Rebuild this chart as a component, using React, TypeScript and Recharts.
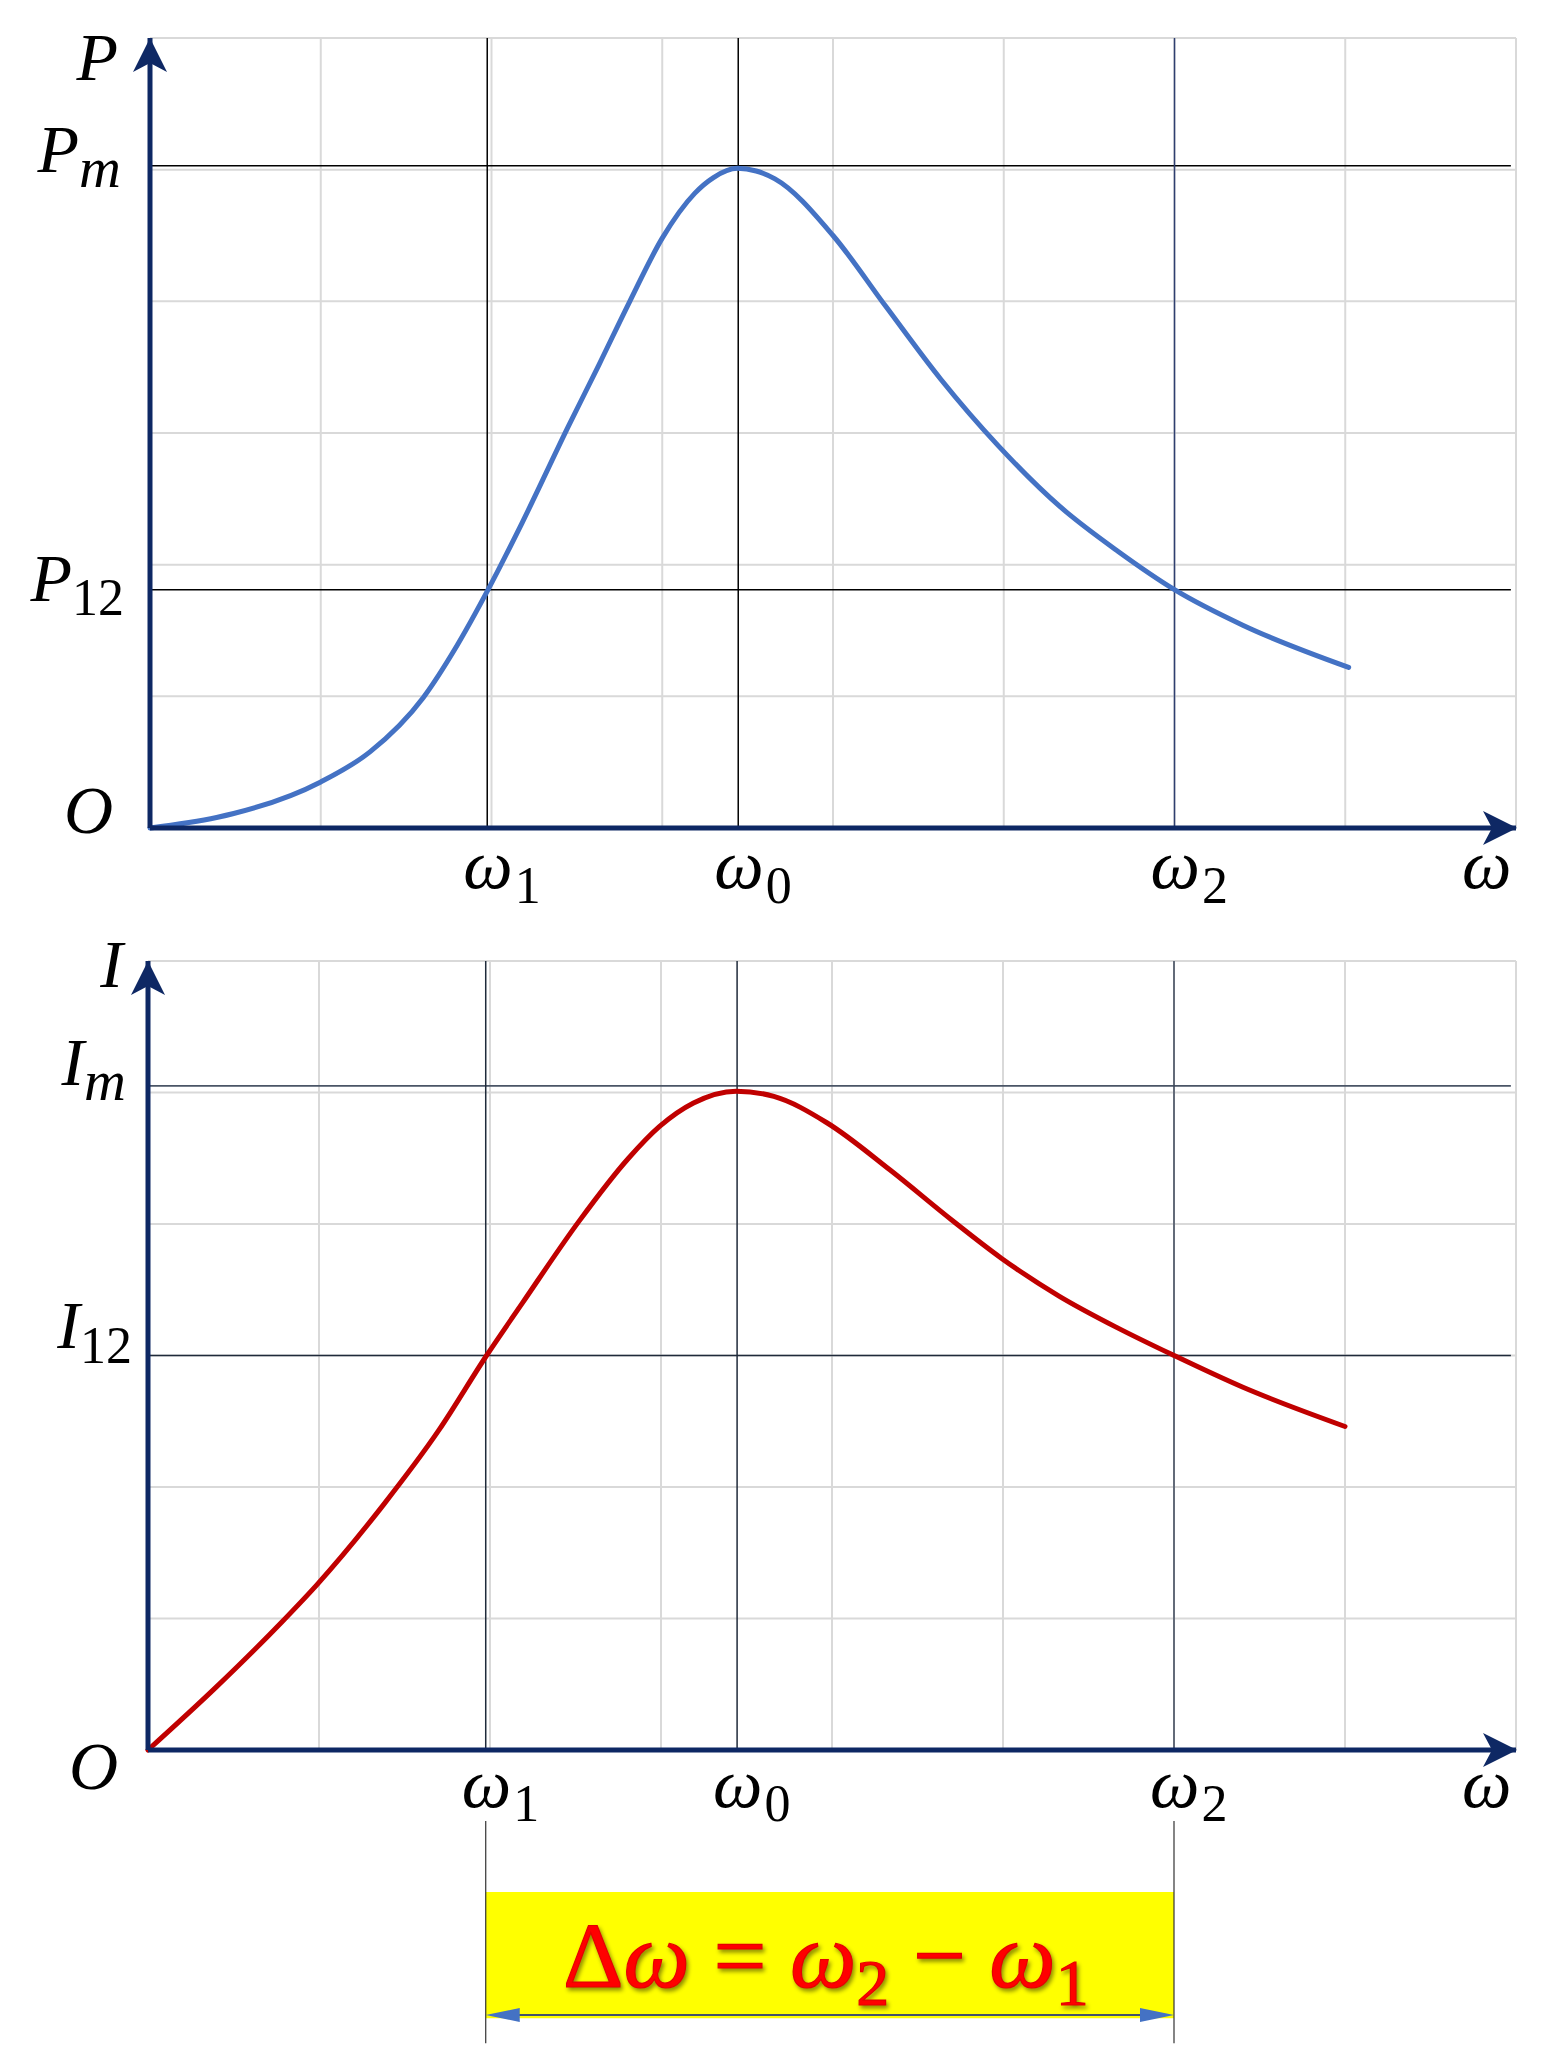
import React from 'react';
import { LineChart, Line, XAxis, YAxis, ReferenceLine, ReferenceDot, ReferenceArea } from 'recharts';

// frequency marks (grid units along ω axis)
const W1 = 1.975;
const W0 = 3.445;
const W2 = 6.0;
const W_MAX = 8;
const Y_MAX = 6;

const gridX = [1, 2, 3, 4, 5, 6, 7, 8];
const gridY = [1, 2, 3, 4, 5, 6];

// power curve P(ω)
const omegaP = [0, 0.39, 0.49, 1.0, 1.29, 1.6, 1.8, 1.98, 2.18, 2.45, 2.63, 2.81, 3.0, 3.19, 3.3, 3.44, 3.55, 3.66, 4.0, 4.31, 4.63, 4.97, 5.33, 5.67, 6.0, 6.4, 7.02];
const powerP = [0, 0.08, 0.11, 0.35, 0.58, 0.99, 1.39, 1.81, 2.32, 3.05, 3.52, 4.0, 4.48, 4.82, 4.94, 5.01, 4.99, 4.93, 4.5, 3.96, 3.41, 2.9, 2.44, 2.1, 1.81, 1.54, 1.22];
const P_M = 5.03;
const P_12 = 1.81;

// current curve I(ω)
const omegaI = [0, 0.4, 0.78, 0.99, 1.38, 1.7, 1.98, 2.19, 2.52, 2.81, 2.99, 3.19, 3.44, 3.66, 3.97, 4.34, 4.7, 4.99, 5.33, 5.67, 6.0, 6.4, 7.0];
const currentI = [0, 0.48, 0.97, 1.26, 1.87, 2.43, 3.0, 3.4, 4.02, 4.5, 4.74, 4.92, 5.01, 4.97, 4.77, 4.41, 4.03, 3.74, 3.45, 3.21, 3.0, 2.76, 2.46];
const I_M = 5.05;
const I_12 = 3.0;

const xTickValues = [W1, W0, W2, W_MAX];
const xTickSubs = ['1', '0', '2', ''];

const yTicksP = [0, P_12, P_M, Y_MAX];
const yLettersP = ['O', 'P', 'P', 'P'];
const ySubsP = ['', '12', 'm', ''];

const yTicksI = [0, I_12, I_M, Y_MAX];
const yLettersI = ['O', 'I', 'I', 'I'];
const ySubsI = ['', '12', 'm', ''];

const FONT = "'Liberation Serif', 'DejaVu Serif', serif";
const AXIS = '#0e2864';
const GRID = '#d9d9d9';

const dataP = omegaP.map((w, i) => ({ w, p: powerP[i] }));
const dataI = omegaI.map((w, i) => ({ w, i: currentI[i] }));

const findIdx = (arr: number[], v: number) => arr.findIndex(t => Math.abs(t - v) < 1e-6);

const xTick = (dy: number, sdy: number) => (props: any) => {
  const { x, y, payload } = props;
  const sub = xTickSubs[findIdx(xTickValues, payload.value)];
  return (
    <text x={sub ? x - 24 : x - 54} y={y + dy} fontFamily={FONT} fontSize={70} fill="#000">
      <tspan fontStyle="italic">ω</tspan>
      {sub ? <tspan fontSize={52} dx={2} dy={sdy}>{sub}</tspan> : null}
    </text>
  );
};

// layout per tick: [gap from axis, baseline offset, subscript offset]
const yTick = (ticks: number[], letters: string[], subs: string[], layout: number[][]) => (props: any) => {
  const { x, y, payload } = props;
  const i = findIdx(ticks, payload.value);
  const [gap, dy, sdy] = layout[i];
  const sub = subs[i];
  return (
    <text x={x - gap} y={y + dy} textAnchor="end" fontFamily={FONT} fontSize={68} fill="#000">
      <tspan fontStyle="italic">{letters[i]}</tspan>
      {sub ? (
        <tspan fontSize={sub === 'm' ? 58 : 52} fontStyle={sub === 'm' ? 'italic' : 'normal'} dy={sdy}>{sub}</tspan>
      ) : null}
    </text>
  );
};

const upArrow = (props: any) => {
  const { cx, cy } = props;
  return <polygon points={`${cx},${cy} ${cx - 17},${cy + 34} ${cx},${cy + 25} ${cx + 17},${cy + 34}`} fill={AXIS} />;
};

const rightArrow = (props: any) => {
  const { cx, cy } = props;
  return <polygon points={`${cx + 1},${cy} ${cx - 33},${cy - 17} ${cx - 24},${cy} ${cx - 33},${cy + 17}`} fill={AXIS} />;
};

const doubleArrow = (props: any) => {
  const { x1, y1, x2 } = props;
  return (
    <g>
      <line x1={x1 + 20} y1={y1} x2={x2 - 20} y2={y1} stroke="#44546a" strokeWidth={2} />
      <polygon points={`${x1},${y1} ${x1 + 34},${y1 - 7} ${x1 + 34},${y1 + 7}`} fill="#4472c4" />
      <polygon points={`${x2},${y1} ${x2 - 34},${y1 - 7} ${x2 - 34},${y1 + 7}`} fill="#4472c4" />
    </g>
  );
};

const deltaText = (props: any) => {
  const { cx, cy } = props;
  return (
    <text
      x={cx - 4}
      y={cy}
      textAnchor="middle"
      fontFamily={FONT}
      fontSize={94}
      fill="#ff0000"
      stroke="#e60000"
      strokeWidth={1.2}
      style={{ whiteSpace: 'pre', filter: 'drop-shadow(2px 3px 2px rgba(0,0,0,0.45))' }}
    >
      <tspan>Δ</tspan>
      <tspan fontStyle="italic">ω</tspan>
      <tspan> = </tspan>
      <tspan fontStyle="italic">ω</tspan>
      <tspan fontSize={66} dy={18}>2</tspan>
      <tspan dy={-18}> − </tspan>
      <tspan fontStyle="italic">ω</tspan>
      <tspan fontSize={66} dy={18}>1</tspan>
    </text>
  );
};

const gridLines = () => [
  ...gridX.map(v => <ReferenceLine key={'gx' + v} x={v} stroke={GRID} strokeWidth={2} />),
  ...gridY.map(v => <ReferenceLine key={'gy' + v} y={v} stroke={GRID} strokeWidth={2} />),
];

export default function App() {
  return (
    <div style={{ position: 'absolute', left: 0, top: 0, width: 1555, height: 2048, background: '#fff' }}>
      <div style={{ position: 'absolute', left: 0, top: 0 }}>
        <LineChart width={1555} height={922} data={dataP} margin={{ top: 38, right: 39, left: 30, bottom: 34 }}>
          <XAxis
            type="number"
            dataKey="w"
            domain={[0, W_MAX]}
            ticks={xTickValues}
            interval={0}
            tickSize={0}
            tickLine={false}
            height={60}
            axisLine={{ stroke: AXIS, strokeWidth: 5 }}
            tick={xTick(58, 15)}
          />
          <YAxis
            type="number"
            domain={[0, Y_MAX]}
            ticks={yTicksP}
            interval={0}
            width={120}
            tickSize={0}
            tickLine={false}
            axisLine={{ stroke: AXIS, strokeWidth: 5 }}
            tick={yTick(yTicksP, yLettersP, ySubsP, [[35, 5, 0], [24, 11, 14], [27, 6, 15], [30, 42, 0]])}
          />
          {gridLines()}
          <ReferenceLine segment={[{ x: 0, y: P_M }, { x: 7.97, y: P_M }]} stroke="#000" strokeWidth={1.5} />
          <ReferenceLine segment={[{ x: 0, y: P_12 }, { x: 7.97, y: P_12 }]} stroke="#000" strokeWidth={1.5} />
          <ReferenceLine segment={[{ x: W1, y: 0 }, { x: W1, y: Y_MAX }]} stroke="#000" strokeWidth={1.5} />
          <ReferenceLine segment={[{ x: W0, y: 0 }, { x: W0, y: Y_MAX }]} stroke="#000" strokeWidth={1.5} />
          <ReferenceLine segment={[{ x: W2, y: 0 }, { x: W2, y: Y_MAX }]} stroke="#2f3f6f" strokeWidth={1.5} />
          <Line
            type="monotone"
            dataKey="p"
            stroke="#4472c4"
            strokeWidth={5}
            strokeLinecap="round"
            dot={false}
            isAnimationActive={false}
          />
          <ReferenceDot x={W_MAX} y={0} ifOverflow="visible" shape={rightArrow} />
          <ReferenceDot x={0} y={Y_MAX} ifOverflow="visible" shape={upArrow} />
        </LineChart>
      </div>

      <div style={{ position: 'absolute', left: 0, top: 922 }}>
        <LineChart width={1555} height={1126} data={dataI} margin={{ top: 39, right: 39, left: 28, bottom: 238 }}>
          <XAxis
            type="number"
            dataKey="w"
            domain={[0, W_MAX]}
            ticks={xTickValues}
            interval={0}
            tickSize={0}
            tickLine={false}
            height={60}
            axisLine={{ stroke: AXIS, strokeWidth: 5 }}
            tick={xTick(55, 14)}
          />
          <YAxis
            type="number"
            domain={[0, Y_MAX]}
            ticks={yTicksI}
            interval={0}
            width={120}
            tickSize={0}
            tickLine={false}
            axisLine={{ stroke: AXIS, strokeWidth: 5 }}
            tick={yTick(yTicksI, yLettersI, ySubsI, [[28, 39, 0], [14, -8, 15], [20, -1, 15], [23, 26, 0]])}
          />
          {gridLines()}
          <ReferenceLine segment={[{ x: 0, y: I_M }, { x: 7.97, y: I_M }]} stroke="#4a5566" strokeWidth={1.8} />
          <ReferenceLine segment={[{ x: 0, y: I_12 }, { x: 7.97, y: I_12 }]} stroke="#1f2a3a" strokeWidth={1.5} />
          <ReferenceLine segment={[{ x: W1, y: 0 }, { x: W1, y: Y_MAX }]} stroke="#1f2a3a" strokeWidth={1.5} />
          <ReferenceLine segment={[{ x: W0, y: 0 }, { x: W0, y: Y_MAX }]} stroke="#1f2a3a" strokeWidth={1.5} />
          <ReferenceLine segment={[{ x: W2, y: 0 }, { x: W2, y: Y_MAX }]} stroke="#3b4658" strokeWidth={1.5} />
          <Line
            type="monotone"
            dataKey="i"
            stroke="#c00000"
            strokeWidth={5}
            strokeLinecap="round"
            dot={false}
            isAnimationActive={false}
          />
          <ReferenceDot x={W_MAX} y={0} ifOverflow="visible" shape={rightArrow} />
          <ReferenceDot x={0} y={Y_MAX} ifOverflow="visible" shape={upArrow} />

          {/* bandwidth annotation below the axis */}
          <ReferenceLine segment={[{ x: W1, y: -0.54 }, { x: W1, y: -2.23 }]} stroke="#333" strokeWidth={1.2} ifOverflow="visible" />
          <ReferenceLine segment={[{ x: W2, y: -0.54 }, { x: W2, y: -2.23 }]} stroke="#333" strokeWidth={1.2} ifOverflow="visible" />
          <ReferenceArea x1={W1} x2={W2} y1={-2.04} y2={-1.08} fill="#ffff00" fillOpacity={1} stroke="none" ifOverflow="visible" />
          <ReferenceLine segment={[{ x: W1, y: -2.015 }, { x: W2, y: -2.015 }]} ifOverflow="visible" shape={doubleArrow} />
          <ReferenceDot x={(W1 + W2) / 2} y={-1.8} ifOverflow="visible" shape={deltaText} />
        </LineChart>
      </div>
    </div>
  );
}
